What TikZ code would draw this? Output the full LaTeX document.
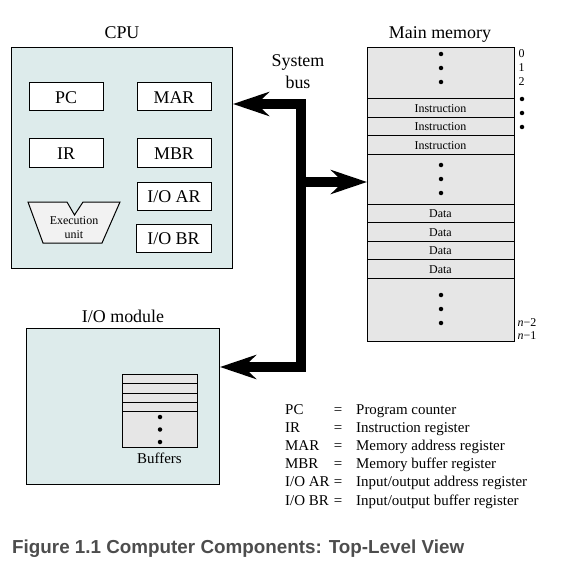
\documentclass[tikz,border=0pt]{standalone}
\usepackage{fontspec}
\setmainfont{Liberation Serif}
\newfontfamily\capfont{Liberation Sans}
\usetikzlibrary{arrows.meta}
\definecolor{cpufill}{HTML}{DDEBEB}
\definecolor{memfill}{HTML}{E6E6E6}
\definecolor{execfill}{HTML}{F2F2F2}
\definecolor{capgray}{HTML}{4D4D4D}
\tikzset{
  bustip/.tip={Stealth[length=36bp,width=24bp,inset=12bp]},
  panel/.style={draw, line width=1bp, fill=cpufill, inner sep=0, outer sep=0},
  reg/.style={draw, line width=1bp, fill=white, inner sep=0, outer sep=0, minimum width=74bp, minimum height=28bp, text height=12.5bp, text depth=0bp, font=\fontsize{18}{20}\selectfont},
  memrow/.style={draw, line width=1bp, fill=memfill, inner sep=0, outer sep=0, minimum width=147bp, minimum height=18.5bp, text height=8.5bp, text depth=0bp, font=\fontsize{12}{14}\selectfont},
  memdot/.style={circle, fill=black, inner sep=0, minimum size=4.5bp},
  title/.style={anchor=base, inner sep=0, font=\fontsize{18}{20}\selectfont},
  smalltxt/.style={anchor=base, inner sep=0, font=\fontsize{12}{14}\selectfont},
  idx/.style={anchor=base west, inner sep=0, font=\fontsize{12}{14}\selectfont},
  legtxt/.style={anchor=base west, inner sep=0, font=\fontsize{15}{18}\selectfont},
  bus/.style={line width=10bp, line join=miter, draw=black},
}
\begin{document}
\begin{tikzpicture}[x=1bp,y=-1bp]
\useasboundingbox (0,0) rectangle (588,567);

% ---------- CPU ----------
\node[title] (cputitle) at (122,39) {CPU};
\node[panel, minimum width=220bp, minimum height=220bp] (cpu) at (122,158) {};
\node[reg] (pc)  at (66,97)  {PC};
\node[reg] (mar) at (174,97) {MAR};
\node[reg] (ir)  at (66,153) {IR};
\node[reg] (mbr) at (174,153) {MBR};
\node[reg] (ioar) at (174,196) {I/O AR};
\node[reg, minimum width=75bp] (iobr) at (173.5,238) {I/O BR};
\draw[line width=1bp, fill=execfill] (28,202) -- (67,202) -- (74.5,215) -- (83,202) -- (120,202) -- (102,243) -- (43,243) -- cycle;
\node[smalltxt] (exec1) at (74,224) {Execution};
\node[smalltxt] (exec2) at (74,238) {unit};

% ---------- Main memory ----------
\node[title] (memtitle) at (440,39) {Main memory};
\node[draw, line width=1bp, fill=memfill, inner sep=0, outer sep=0, minimum width=147bp, minimum height=293bp] (mem) at (440.5,194.5) {};
\node[memrow] (i1) at (440.5,108.25) {Instruction};
\node[memrow] (i2) at (440.5,126.75) {Instruction};
\node[memrow] (i3) at (440.5,145.25) {Instruction};
\node[memrow] (d1) at (440.5,213.25) {Data};
\node[memrow] (d2) at (440.5,231.75) {Data};
\node[memrow] (d3) at (440.5,250.25) {Data};
\node[memrow] (d4) at (440.5,268.75) {Data};
\foreach \yy [count=\k] in {54,68,82,165,179,193,295,309,323}
  \node[memdot] (md\k) at (441,\yy) {};
\foreach \yy [count=\k] in {99,113,127}
  \node[memdot] (rd\k) at (522,\yy) {};
\node[idx] (a0) at (518.5,57.5) {0};
\node[idx] (a1) at (518.5,71.5) {1};
\node[idx] (a2) at (518.5,85.5) {2};
\node[idx] (an2) at (517.5,326) {\textit{n}−2};
\node[idx] (an1) at (517.5,339.5) {\textit{n}−1};

% ---------- I/O module ----------
\node[title] (iotitle) at (123,322) {I/O module};
\node[panel, minimum width=192bp, minimum height=156bp] (io) at (123,406) {};
\node[draw, line width=1bp, fill=memfill, inner sep=0, outer sep=0, minimum width=75bp, minimum height=73bp] (buf) at (159.5,410.5) {};
\foreach \yy in {383,393,402,411}
  \draw[line width=1bp] (buf.west |- 0,\yy) -- (buf.east |- 0,\yy);
\foreach \yy [count=\k] in {417,429.5,442}
  \node[memdot] (bd\k) at (160,\yy) {};
\node[anchor=base, inner sep=0, font=\fontsize{15}{18}\selectfont] (buftxt) at (159.5,463) {Buffers};

% ---------- System bus ----------
\node[title] (sys1) at (298,67) {System};
\node[title] (sys2) at (298,89) {bus};
\coordinate (bustop) at (301,104);
\coordinate (busbot) at (301,367);
\coordinate (busmid) at (301,182);
\coordinate (cputip) at ([xshift=1bp]cpu.east |- bustop);
\coordinate (memtip) at (mem.west |- busmid);
\coordinate (iotip) at ([xshift=1bp]io.east |- busbot);
\draw[bus, bustip-bustip] (cputip) -- (bustop) -- (busbot) -- (iotip);
\draw[bus, -bustip] (busmid) -- (memtip);

% ---------- Legend ----------
\foreach \ab/\desc [count=\k] in {{PC}/{Program counter}, {IR}/{Instruction register}, {MAR}/{Memory address register}, {MBR}/{Memory buffer register}, {I/O AR}/{Input/output address register}, {I/O BR}/{Input/output buffer register}}{
  \pgfmathsetmacro{\yb}{414+18.2*(\k-1)}
  \node[legtxt] (lga\k) at (285,\yb) {\ab};
  \node[anchor=base, inner sep=0, font=\fontsize{15}{18}\selectfont] (lgb\k) at (338,\yb) {=};
  \node[legtxt] (lgc\k) at (356,\yb) {\desc};
}

% ---------- Caption ----------
\node[anchor=base west, inner sep=0, text=capgray, font=\capfont\bfseries\fontsize{18.9}{22}\selectfont] (caption) at (12,553) {Figure 1.1 Computer Components: Top-Level View};
\end{tikzpicture}
\end{document}
